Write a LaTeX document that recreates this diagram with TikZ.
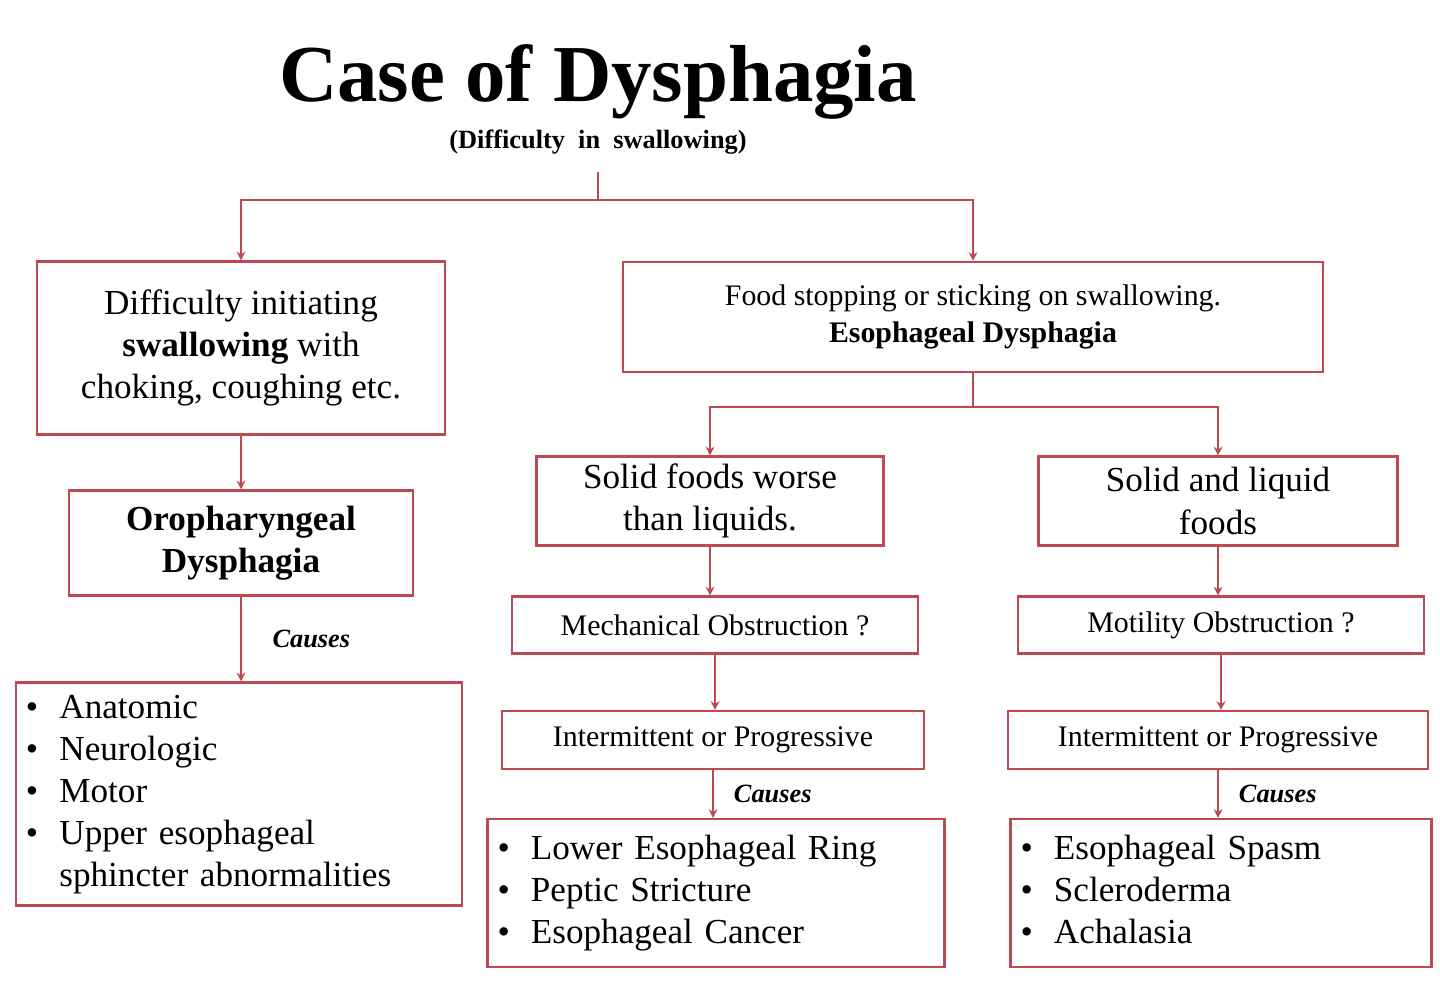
\documentclass[tikz,border=0pt]{standalone}
\usepackage{fontspec}
\setmainfont{Liberation Serif}
\usepackage{xcolor}
\usetikzlibrary{positioning,arrows.meta}
\definecolor{boxred}{RGB}{192,72,80}

\tikzset{
  box/.style={draw=boxred, line width=1.2pt, align=center, inner sep=0pt, font=\fontsize{20}{24}\selectfont},
  small box/.style={box, font=\fontsize{17}{21.5}\selectfont},
  list box/.style={box, align=left, inner xsep=0.2cm},
  link/.style={draw=boxred, line width=1.2pt, -{Stealth[length=5pt,width=5pt]}},
  causes/.style={font=\fontsize{15}{18}\selectfont\bfseries\itshape, anchor=west},
}

\begin{document}
\begin{tikzpicture}[x=0.02cm, y=-0.02cm]
\useasboundingbox (0,0) rectangle (1440,982);

\node [font=\fontsize{46}{52}\selectfont\bfseries] (title) at (598,82) {Case of Dysphagia};
\node [font=\fontsize{15}{17}\selectfont\bfseries, inner sep=0pt] (sub) at (598,142) {(Difficulty~ in~ swallowing)};

\node [box, minimum width=408*0.02cm, minimum height=173*0.02cm] (initiate) at (241,348)
  {Difficulty initiating\\\textbf{swallowing} with\\choking, coughing etc.};
\node [small box, minimum width=700*0.02cm, minimum height=110*0.02cm] (esoph) at (973,317)
  {Food stopping or sticking on swallowing.\\\textbf{Esophageal Dysphagia}};
\node [box, minimum width=344*0.02cm, minimum height=105*0.02cm] (oro) at (241,543)
  {\textbf{Oropharyngeal}\\\textbf{Dysphagia}};
\node [list box, text width=426*0.02cm, minimum height=223*0.02cm] (oro-list) at (239,794)
  {\begin{tabular}{@{}l@{\hspace{12pt}}l@{}}
   \textbullet & Anatomic\\ \textbullet & Neurologic\\ \textbullet & Motor\\
   \textbullet & Upper esophageal\\ & sphincter abnormalities\end{tabular}};

\node [box, minimum width=347*0.02cm, minimum height=89*0.02cm] (solid) at (710,501)
  {Solid foods worse\\than liquids.};
\node [box, minimum width=359*0.02cm, minimum height=89*0.02cm] (liquid) at (1218,501)
  {Solid and liquid\\foods};
\node [small box, minimum width=406*0.02cm, minimum height=57*0.02cm] (mech) at (715,625)
  {Mechanical Obstruction ?};
\node [small box, minimum width=406*0.02cm, minimum height=57*0.02cm] (motil) at (1221,625)
  {Motility Obstruction ?};
\node [small box, minimum width=422*0.02cm, minimum height=58*0.02cm] (inter-1) at (713,740)
  {Intermittent or Progressive};
\node [small box, minimum width=420*0.02cm, minimum height=58*0.02cm] (inter-2) at (1218,740)
  {Intermittent or Progressive};
\node [list box, text width=437*0.02cm, minimum height=148*0.02cm] (mech-list) at (716,893)
  {\begin{tabular}{@{}l@{\hspace{12pt}}l@{}}
   \textbullet & Lower Esophageal Ring\\ \textbullet & Peptic Stricture\\ \textbullet & Esophageal Cancer\end{tabular}};
\node [list box, text width=401*0.02cm, minimum height=148*0.02cm] (motil-list) at (1221,893)
  {\begin{tabular}{@{}l@{\hspace{12pt}}l@{}}
   \textbullet & Esophageal Spasm\\ \textbullet & Scleroderma\\ \textbullet & Achalasia\end{tabular}};

% connectors
\coordinate (split-1) at (598,200);
\coordinate (split-2) at (973,407);
\draw [draw=boxred, line width=1.2pt] (sub.south |- 0,172) -- (split-1);
\draw [link] (split-1) -| (initiate.north);
\draw [link] (split-1) -| (esoph.north);
\draw [draw=boxred, line width=1.2pt] (esoph.south) -- (split-2);
\draw [link] (split-2) -| (solid.north);
\draw [link] (split-2) -| (liquid.north);
\draw [link] (initiate) -- (oro);
\draw [link] (oro.south) -- (oro.south |- oro-list.north) node [causes, midway, xshift=14pt] {Causes};
\draw [link] (solid) -- (solid |- mech.north);
\draw [link] (liquid) -- (liquid |- motil.north);
\draw [link] (mech) -- (mech |- inter-1.north);
\draw [link] (motil) -- (motil |- inter-2.north);
\draw [link] (inter-1) -- (inter-1 |- mech-list.north) node [causes, midway, xshift=8pt] {Causes};
\draw [link] (inter-2) -- (inter-2 |- motil-list.north) node [causes, midway, xshift=8pt] {Causes};
\end{tikzpicture}
\end{document}
